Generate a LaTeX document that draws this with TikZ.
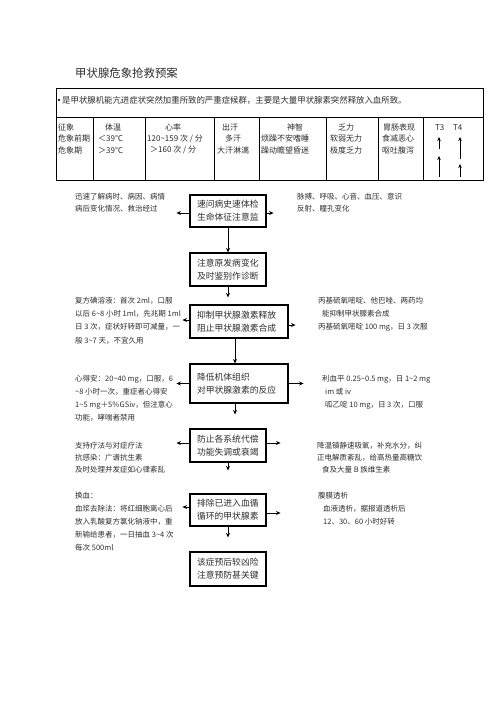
\documentclass[tikz,border=0pt]{standalone}
\usepackage{fontspec}
\setmainfont{Noto Sans CJK SC}
\usetikzlibrary{arrows.meta,calc}
\newcommand\mytilde{\textasciitilde}
\definecolor{txt}{HTML}{2E2E2E}
\begin{document}
\begin{tikzpicture}[x=1pt,y=-1pt,
 box/.style={draw=black,line width=1.1pt,inner xsep=7pt,inner ysep=0pt,align=left,font=\fontsize{8.8}{13}\selectfont,text=txt},
 side/.style={anchor=north west,inner sep=0pt,align=left,font=\fontsize{7.5}{13}\selectfont,text=txt},
 tcell/.style={anchor=west,inner sep=0pt,font=\fontsize{8}{10}\selectfont,text=txt},
 arr/.style={-{Stealth[length=4.5pt,width=4pt]},line width=1pt},
 tarr/.style={-{Stealth[length=4pt,width=3.5pt]},line width=0.9pt},
 grid/.style={line width=0.7pt}]
\path[use as bounding box,fill=white] (0,0) rectangle (496,702);

% title
\node[anchor=west,inner sep=0pt,font=\fontsize{11.4}{12}\selectfont,text=txt] (title) at (75,73) {甲状腺危象抢救预案};

% table
\draw[grid] (56,88) rectangle (483,180);
\draw[grid] (56,117) -- (483,117);
\foreach \xx in {93,145,214,259,326,378,423} \draw[grid] (\xx,117) -- (\xx,180);
\fill[txt] (57.5,98.5) rectangle (60,101);
\node[anchor=west,inner sep=0pt,font=\fontsize{8.4}{10}\selectfont,text=txt] (bul) at (62,100) {是甲状腺机能亢进症状突然加重所致的严重症候群，主要是大量甲状腺素突然释放入血所致。};

\node[tcell] (c11) at (58,127) {征象};
\node[tcell] (c12) at (58,138.5) {危象前期};
\node[tcell] (c13) at (58,150) {危象期};
\node[tcell] (c21) at (105,127) {体温};
\node[tcell] (c22) at (98,138.5) {＜39℃};
\node[tcell] (c23) at (98,150) {＞39℃};
\node[tcell] (c31) at (165,127) {心率};
\node[tcell] (c32) at (147,138.5) {120\mytilde159 次 / 分};
\node[tcell] (c33) at (150,150) {＞160 次 / 分};
\node[tcell] (c41) at (222,127) {出汗};
\node[tcell] (c42) at (225,138.5) {多汗};
\node[tcell] (c43) at (217,150) {大汗淋漓};
\node[tcell] (c51) at (287,127) {神智};
\node[tcell] (c52) at (261,138.5) {烦躁不安嗜睡};
\node[tcell] (c53) at (261,150) {躁动瞻望昏迷};
\node[tcell] (c61) at (338,127) {乏力};
\node[tcell] (c62) at (330,138.5) {软弱无力};
\node[tcell] (c63) at (330,150) {极度乏力};
\node[tcell] (c71) at (383,127) {胃肠表现};
\node[tcell] (c72) at (382,138.5) {食减恶心};
\node[tcell] (c73) at (382,150) {呕吐腹泻};
\node[tcell] (t3) at (435,128) {T3};
\node[tcell] (t4) at (453,128) {T4};
\draw[tarr] (439,149) -- (439,137);
\draw[tarr] (439,177) -- (439,156);
\draw[tarr] (460,159) -- (460,137);
\draw[tarr] (460,177) -- (460,164);

% flow boxes
\node[box,text width=62pt,minimum height=32pt] (b1) at (228,211) {速问病史速体检\\生命体征注意监};
\node[box,text width=62pt,minimum height=33pt] (b2) at (228,269.5) {注意原发病变化\\及时鉴别作诊断};
\node[box,text width=84pt,minimum height=33pt] (b3) at (239,321.5) {抑制甲状腺激素释放\\阻止甲状腺激素合成};
\node[box,text width=84pt,minimum height=39pt] (b4) at (239,383.5) {降低机体组织\\对甲状腺激素的反应\\[4pt]};
\node[box,text width=62pt,minimum height=33pt] (b5) at (228,445.5) {防止各系统代偿\\功能失调或衰竭};
\node[box,text width=62pt,minimum height=32pt] (b6) at (228,510) {排除已进入血循\\循环的甲状腺素};
\node[box,text width=62pt,minimum height=34pt] (b7) at (228,569) {该症预后较凶险\\注意预防甚关键};

% vertical connectors
\draw[arr] (b1) -- (b2);
\draw[arr,shorten >=7pt] (b2.south) -- (b2.south |- b3.north);
\draw[arr] ([xshift=-4pt]b3.south) -- ([xshift=-4pt]b4.north);
\draw[arr,shorten >=14pt] ([xshift=-4pt]b4.south) -- ([xshift=-4pt]b4.south |- b5.north);
\draw[arr,shorten >=23pt] (b5) -- (b6);
\draw[arr,shorten >=14pt] (b6) -- (b7);

% side connectors
\draw[arr] ([yshift=-2pt]b1.west) -- ++(-13,0);
\draw[arr] ([yshift=-2pt]b1.east) -- ++(7,0);
\draw[arr] ([yshift=1.5pt]b3.west) -- ++(-7,0);
\draw[arr] ([yshift=-3.5pt]b3.east) -- ++(7,0);
\draw[arr] (b4.west) -- ++(-13,0);
\draw[arr] (b4.east) -- ++(15,0);
\draw[arr] ([yshift=2.5pt]b5.west) -- ++(-13,0);
\draw[arr] ([yshift=2.5pt]b5.east) -- ++(14,0);
\draw[arr] ([yshift=3pt]b6.west) -- ++(-7,0);
\draw[arr] ([yshift=-3pt]b6.east) -- ++(14,0);

% side texts
\node[side,font=\fontsize{7.5}{12}\selectfont] (l1) at (75,192.6) {迅速了解病时、病因、病情\\病后变化情况、救治经过};
\node[side,font=\fontsize{7.5}{12}\selectfont] (r1) at (297,192.6) {脉搏、呼吸、心音、血压、意识\\反射、瞳孔变化};
\node[side,font=\fontsize{7.5}{13.3}\selectfont] (l3) at (75,296.6) {复方碘溶液：首次 2ml，口服\\以后 6\mytilde8 小时 1ml，先兆期 1ml\\日 3 次，症状好转即可减量，一\\般 3\mytilde7 天，不宜久用};
\node[side,font=\fontsize{7.5}{13.3}\selectfont] (r3) at (318,296.6) {丙基硫氧嘧啶、他巴唑、两药均\\\hspace*{4pt}能抑制甲状腺素合成\\丙基硫氧嘧啶 100 mg，日 3 次服};
\node[side] (l4) at (75,374.6) {心得安：20\mytilde40 mg，口服，6\\\mytilde8 小时一次，重症者心得安\\1\mytilde5 mg＋5％GSiv，但注意心\\功能，哮喘者禁用};
\node[side] (r4) at (322,374.6) {利血平 0.25\mytilde0.5 mg，日 1\mytilde2 mg\\\hspace*{3pt}im 或 iv\\\hspace*{3pt}呱乙啶 10 mg，日 3 次，口服};
\node[side,font=\fontsize{7.5}{12}\selectfont] (l5) at (75,441.6) {支持疗法与对症疗法\\抗感染：广谱抗生素\\及时处理并发症如心律紊乱};
\node[side,font=\fontsize{7.5}{12}\selectfont] (r5) at (317,441.6) {降温镇静速吸氧，补充水分，纠\\正电解质紊乱，给高热量高糖饮\\\hspace*{5pt}食及大量 B 族维生素};
\node[side] (l6) at (75,491.6) {换血：\\血浆去除法：将红细胞离心后\\放入乳酸复方氯化钠液中，重\\新输给患者，一日抽血 3\mytilde4 次\\每次 500ml};
\node[side] (r6) at (318,491.6) {腹膜透析\\\hspace*{5pt}血液透析，据报道透析后\\\hspace*{5pt}12、30、60 小时好转};
\end{tikzpicture}
\end{document}
